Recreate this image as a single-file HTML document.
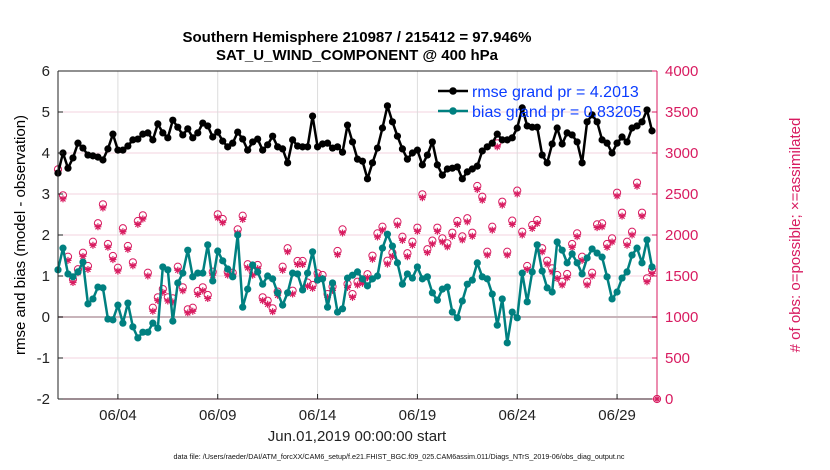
<!DOCTYPE html>
<html><head><meta charset="utf-8">
<style>
html,body{margin:0;padding:0;background:#fff;}
svg{display:block;font-family:"Liberation Sans",Arial,sans-serif;}
</style></head>
<body>
<svg id="chart" width="830" height="470" viewBox="0 0 830 470" xmlns="http://www.w3.org/2000/svg">
<rect width="830" height="470" fill="#fff"/>
<text x="357" y="42" text-anchor="middle" font-size="15" font-weight="bold">Southern Hemisphere 210987 / 215412 = 97.946%</text>
<text x="357" y="60" text-anchor="middle" font-size="15" font-weight="bold">SAT_U_WIND_COMPONENT @ 400 hPa</text>
<g id="grid"></g>
<g id="marks"></g>
<g id="axes"></g>
<text transform="translate(25,235) rotate(-90)" text-anchor="middle" font-size="15">rmse and bias (model - observation)</text>
<text transform="translate(800,235) rotate(-90)" text-anchor="middle" font-size="15" fill="#d81b60"># of obs: o=possible; ×=assimilated</text>
<text x="357" y="441" text-anchor="middle" font-size="15" fill="#222">Jun.01,2019 00:00:00 start</text>
<text x="399" y="459" text-anchor="middle" font-size="7.2" fill="#111">data file: /Users/raeder/DAI/ATM_forcXX/CAM6_setup/f.e21.FHIST_BGC.f09_025.CAM6assim.011/Diags_NTrS_2019-06/obs_diag_output.nc</text>
<g id="legend">
  <line x1="438" y1="91" x2="468" y2="91" stroke="#000" stroke-width="2.5"/>
  <circle cx="453" cy="91" r="3.8" fill="#000"/>
  <text x="472" y="97" font-size="16" fill="#0a3cff">rmse grand pr = 4.2013</text>
  <line x1="438" y1="111" x2="468" y2="111" stroke="#008080" stroke-width="2.5"/>
  <circle cx="453" cy="111" r="3.8" fill="#008080"/>
  <text x="472" y="117" font-size="16" fill="#0a3cff">bias grand pr = 0.83205</text>
</g>
</svg>
<script>
const rmse = [3.51,4.0,3.63,3.88,4.24,4.12,3.95,3.93,3.90,3.83,4.10,4.46,4.07,4.07,4.17,4.32,4.34,4.46,4.49,4.32,4.71,4.49,4.37,4.80,4.63,4.44,4.59,4.37,4.49,4.73,4.66,4.39,4.51,4.29,4.15,4.24,4.51,4.34,4.07,4.27,4.34,4.07,
4.20,4.41,4.15,4.10,3.76,4.32,4.17,4.15,4.15,4.90,4.15,4.22,4.24,4.12,4.15,4.02,4.68,4.27,3.85,3.80,3.37,3.76,4.12,4.61,5.15,4.76,4.41,4.10,3.85,4.0,4.07,3.71,3.95,4.27,3.71,3.46,3.61,3.63,3.66,3.37,
3.54,3.61,3.68,4.05,4.15,4.24,4.46,4.32,4.32,4.37,4.61,5.10,4.66,4.63,4.63,3.95,3.76,4.22,4.61,4.22,4.49,4.44,4.27,3.76,4.76,4.93,4.76,4.32,4.24,4.0,4.24,4.39,4.27,4.61,4.66,4.76,5.05,4.54];
const bias = [1.15,1.68,1.05,0.98,1.10,1.34,0.32,0.44,0.73,0.71,-0.05,-0.07,0.29,-0.15,0.34,-0.24,-0.51,-0.37,-0.37,-0.15,-0.27,1.22,1.15,-0.10,0.83,1.07,1.63,0.98,1.07,1.07,1.76,0.88,1.61,1.37,1.17,0.98,2.0,0.24,0.68,1.27,1.10,0.80,
1.0,0.93,0.59,0.29,0.59,1.07,1.05,0.66,1.07,1.59,0.90,0.93,0.24,0.83,0.12,0.20,0.95,1.02,1.10,0.93,0.76,0.93,1.0,1.68,2.02,1.73,1.32,0.80,1.05,0.95,1.22,0.93,0.98,0.59,0.41,0.68,0.73,0.12,-0.02,0.39,
0.80,0.90,1.32,0.98,0.93,0.56,-0.20,0.44,-0.63,0.12,-0.02,1.07,0.37,1.10,1.76,1.12,0.71,0.61,1.83,1.63,1.32,1.54,1.32,1.05,1.44,1.66,1.56,1.46,0.98,0.44,0.61,0.95,1.10,1.51,1.68,1.32,1.88,1.22];
const obsPossible = [2801,2484,1735,1460,1582,1784,1622,1918,2143,2374,1890,1744,1601,2082,1866,1667,2171,2240,1540,1113,1240,1341,1240,1228,1613,1362,1094,1113,1317,1362,1268,1552,2252,2195,1552,1540,2069,2235,1643,1552,1634,1240,
1199,1106,1309,1613,1838,1321,1683,1683,1419,1390,1533,1512,1280,1370,1805,2069,1402,1280,1430,1451,1521,1748,2020,2101,1687,1784,2162,1979,1777,1918,2089,2496,1826,1931,2089,1959,1898,2028,2171,1983,
2204,2028,2598,2467,1796,2101,3118,2406,1796,2175,2541,2040,1622,2122,2183,1838,1687,1594,1512,1430,1524,1890,2020,1735,1430,1540,2130,2142,1890,1959,2516,2272,1918,2040,2638,2272,1472,1574,0];
const obsAssim = [2760,2440,1690,1420,1540,1740,1580,1875,2100,2330,1850,1700,1560,2040,1825,1625,2130,2195,1500,1070,1200,1300,1195,1185,1570,1320,1050,1070,1275,1320,1225,1510,2210,2150,1510,1500,2025,2190,1600,1510,1590,1200,
1155,1065,1265,1570,1795,1280,1640,1640,1375,1350,1490,1470,1240,1325,1760,2025,1360,1240,1390,1410,1480,1705,1975,2060,1645,1740,2120,1935,1735,1875,2045,2455,1785,1890,2045,1915,1855,1985,2130,1940,
2160,1985,2555,2425,1755,2060,3075,2365,1755,2130,2500,2000,1580,2080,2140,1795,1645,1550,1470,1390,1480,1850,1980,1690,1390,1500,2090,2100,1850,1915,2475,2230,1875,2000,2595,2230,1430,1530,0];
const leftTicks = [6,5,4,3,2,1,0,-1,-2];
const rightTicks = [4000,3500,3000,2500,2000,1500,1000,500,0];
const dateTicks = [3,8,13,18,23,28];
const dateLabels = ["06/04","06/09","06/14","06/19","06/24","06/29"];
const stepDays = 0.25;

const NS="http://www.w3.org/2000/svg";
const X0=58,X1=657,Y0=71,Y1=399;
const xScale=t=>X0+(t/30)*(X1-X0);
const yL=v=>Y1-(v+2)/8*(Y1-Y0);
const yR=v=>Y1-v/4000*(Y1-Y0);
function mk(tag,attrs,parent){const e=document.createElementNS(NS,tag);for(const k in attrs)e.setAttribute(k,attrs[k]);parent.appendChild(e);return e;}
const grid=document.getElementById('grid'),marks=document.getElementById('marks'),axes=document.getElementById('axes');

rightTicks.forEach(v=>{const l=mk('line',{x1:X0,x2:X1,y1:yR(v),y2:yR(v),stroke:'#f3d3df','stroke-width':1},grid);

});
dateTicks.forEach(d=>{const l=mk('line',{x1:xScale(d),x2:xScale(d),y1:Y0,y2:Y1,stroke:'#dcdcdc','stroke-width':1},grid);

});
const z=mk('line',{x1:X0,x2:X1,y1:yL(0),y2:yL(0),stroke:'#c8b4ba','stroke-width':2},grid);



// obs
obsPossible.forEach((v,i)=>{const c=mk('circle',{cx:xScale(i*stepDays),cy:yR(v),r:3.6,fill:'none',stroke:'#d81b60','stroke-width':1},marks);

});
obsAssim.forEach((v,i)=>{const x=xScale(i*stepDays),y=yR(v);
const g=mk('path',{d:`M${x-3.5},${y}h7M${x},${y-3.5}v7M${x-2.5},${y-2.5}l5,5M${x-2.5},${y+2.5}l5,-5`,stroke:'#d81b60','stroke-width':1.2,fill:'none'},marks);

});

function series(vals,color,name){
 const pts=vals.map((v,i)=>xScale(i*stepDays)+','+yL(v)).join(' ');
 const pl=mk('polyline',{points:pts,fill:'none',stroke:color,'stroke-width':2.5,'stroke-linejoin':'round'},marks);
 
 
 vals.forEach((v,i)=>{const c=mk('circle',{cx:xScale(i*stepDays),cy:yL(v),r:3.6,fill:color},marks);
 
 });
}
series(rmse,'#000','rmse');
series(bias,'#008080','bias');

// axes
mk('line',{x1:X0,x2:X0,y1:Y0,y2:Y1,stroke:'#222','stroke-width':1},axes);
mk('line',{x1:X0,x2:X1,y1:Y1,y2:Y1,stroke:'#3a1a24','stroke-width':1},axes);
mk('line',{x1:X0,x2:X1,y1:Y0,y2:Y0,stroke:'#222','stroke-width':1},axes);
mk('line',{x1:X1,x2:X1,y1:Y0,y2:Y1,stroke:'#d81b60','stroke-width':1},axes);
leftTicks.forEach(v=>{mk('line',{x1:X0,x2:X0+5,y1:yL(v),y2:yL(v),stroke:'#222'},axes);
const t=mk('text',{x:X0-8,y:yL(v)+5,'text-anchor':'end','font-size':15,fill:'#222'},axes);t.textContent=v;

});
rightTicks.forEach(v=>{mk('line',{x1:X1-5,x2:X1,y1:yR(v),y2:yR(v),stroke:'#d81b60'},axes);
const t=mk('text',{x:X1+8,y:yR(v)+5,'font-size':15,fill:'#d81b60'},axes);t.textContent=v;

});
dateTicks.forEach((d,i)=>{mk('line',{x1:xScale(d),x2:xScale(d),y1:Y1,y2:Y1-5,stroke:'#222'},axes);
const t=mk('text',{x:xScale(d),y:Y1+21,'text-anchor':'middle','font-size':15,fill:'#222'},axes);t.textContent=dateLabels[i];

});
</script>
</body></html>
